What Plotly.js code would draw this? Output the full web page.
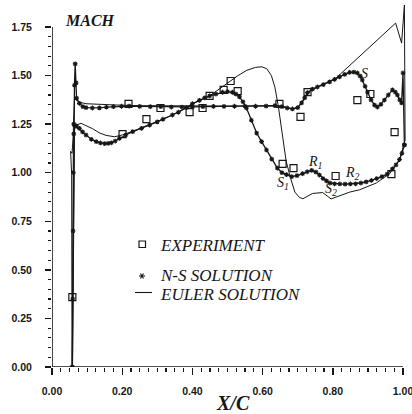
<!DOCTYPE html>
<html>
<head>
<meta charset="utf-8">
<script src="https://cdn.plot.ly/plotly-3.0.1.min.js"></script>
<style>html,body{margin:0;padding:0;background:#fff;}#chart{width:412px;height:414px;}</style>
</head>
<body>
<div id="chart"></div>
<script>
// ---- data ----
const expX = [0.058,0.201,0.218,0.269,0.309,0.392,0.429,0.449,0.489,0.509,0.529,0.648,0.657,0.688,0.708,0.728,0.808,0.870,0.907,0.967,0.976];
const expM = [0.36,1.199,1.354,1.276,1.333,1.312,1.333,1.395,1.426,1.472,1.420,1.354,1.045,1.024,1.287,1.415,0.983,1.374,1.405,0.993,1.209];

const nsUpperX = [0.058,0.059,0.060,0.061,0.062,0.064,0.066,0.069,0.070,0.078,0.088,0.097,0.115,0.135,0.155,0.175,0.198,0.22,0.25,0.28,0.31,0.34,0.37,0.40,0.43,0.46,0.49,0.52,0.55,0.58,0.61,0.635,0.655,0.67,0.685,0.70,0.711,0.72,0.728,0.742,0.756,0.773,0.791,0.805,0.819,0.834,0.848,0.86,0.87,0.878,0.884,0.892,0.899,0.909,0.919,0.927,0.937,0.947,0.958,0.97,0.978,0.984,0.991,0.996,1.0,1.004];
const nsUpperM = [0,0.35,0.70,1.00,1.25,1.45,1.56,1.462,1.384,1.357,1.34,1.335,1.333,1.334,1.337,1.34,1.342,1.343,1.341,1.340,1.340,1.338,1.338,1.339,1.340,1.341,1.341,1.342,1.342,1.342,1.343,1.345,1.34,1.333,1.328,1.335,1.359,1.385,1.412,1.43,1.441,1.453,1.467,1.48,1.493,1.506,1.516,1.518,1.513,1.497,1.477,1.445,1.415,1.375,1.348,1.338,1.352,1.374,1.40,1.426,1.415,1.40,1.375,1.359,1.513,1.143];

const nsLowerX = [0.058,0.062,0.064,0.07,0.078,0.087,0.097,0.112,0.126,0.138,0.15,0.16,0.169,0.18,0.192,0.21,0.23,0.255,0.278,0.30,0.316,0.343,0.36,0.383,0.40,0.42,0.435,0.449,0.467,0.486,0.50,0.514,0.524,0.534,0.544,0.554,0.568,0.583,0.597,0.611,0.626,0.642,0.655,0.668,0.683,0.698,0.714,0.727,0.74,0.752,0.762,0.772,0.782,0.792,0.805,0.82,0.835,0.85,0.865,0.88,0.895,0.91,0.925,0.94,0.955,0.97,0.98,0.99,0.997,1.004];
const nsLowerM = [0,1.20,1.245,1.24,1.228,1.21,1.194,1.172,1.16,1.153,1.15,1.151,1.154,1.163,1.177,1.194,1.211,1.228,1.245,1.262,1.275,1.297,1.311,1.335,1.355,1.372,1.385,1.395,1.405,1.414,1.417,1.414,1.405,1.39,1.365,1.333,1.27,1.204,1.16,1.117,1.07,1.024,1.0,0.99,0.98,0.985,0.995,1.005,1.012,1.003,0.988,0.97,0.958,0.947,0.943,0.942,0.941,0.942,0.943,0.947,0.953,0.96,0.97,0.98,0.993,1.02,1.04,1.068,1.10,1.143];

const eulerUpperX = [0.058,0.061,0.064,0.07,0.08,0.097,0.116,0.15,0.20,0.25,0.30,0.40,0.50,0.60,0.648,0.668,0.685,0.70,0.711,0.728,0.756,0.791,0.811,0.979,0.996,1.004,1.006];
const eulerUpperM = [0,1.25,1.38,1.372,1.362,1.355,1.353,1.35,1.347,1.345,1.344,1.343,1.343,1.343,1.345,1.335,1.328,1.336,1.359,1.412,1.44,1.467,1.49,1.77,1.667,1.863,1.168];

const eulerLowerX = [0.057,0.056,0.053,0.057,0.061,0.068,0.083,0.097,0.116,0.135,0.154,0.178,0.20,0.23,0.278,0.316,0.343,0.383,0.42,0.449,0.48,0.506,0.53,0.555,0.58,0.598,0.612,0.625,0.635,0.645,0.655,0.667,0.68,0.692,0.705,0.715,0.742,0.771,0.795,0.819,0.848,0.876,0.924,0.962,0.99,1.006];
const eulerLowerM = [0,0.99,1.11,1.10,1.20,1.245,1.254,1.242,1.226,1.205,1.192,1.185,1.194,1.213,1.246,1.276,1.297,1.338,1.372,1.395,1.435,1.47,1.50,1.527,1.542,1.545,1.535,1.50,1.44,1.34,1.20,1.06,0.97,0.90,0.873,0.866,0.893,0.898,0.865,0.882,0.90,0.912,0.947,0.995,1.065,1.168];

const pointLabels = ['S','R<sub>1</sub>','R<sub>2</sub>','S<sub>1</sub>','S<sub>2</sub>'];
const pointLabelX = [0.89,0.748,0.856,0.657,0.796];
const pointLabelM = [1.513,1.05,0.998,0.947,0.911];

const xTickVals = [0,0.2,0.4,0.6,0.8,1.0];
const xTickText = ['0.00','0.20','0.40','0.60','0.80','1.00'];
const yTickVals = [0,0.25,0.5,0.75,1.0,1.25,1.5,1.75];
const yTickText = ['0.00','0.25','0.50','0.75','1.00','1.25','1.50','1.75'];

const legendNames = ['EXPERIMENT','N-S SOLUTION','EULER SOLUTION'];

// ---- styling ----
const ink = '#161616';
const serif = '"Liberation Serif","DejaVu Serif",serif';
const sans = '"Liberation Sans",Arial,sans-serif';

const nsStyle = {mode:'lines+markers', line:{color:ink,width:1.3}, marker:{symbol:'asterisk-open',size:4,color:ink,line:{color:ink,width:1.1}}, showlegend:false, hoverinfo:'skip'};
const euStyle = {mode:'lines', line:{color:ink,width:1}, showlegend:false, hoverinfo:'skip'};

const traces = [
  Object.assign({x:eulerUpperX, y:eulerUpperM, name:legendNames[2]}, euStyle),
  Object.assign({x:eulerLowerX, y:eulerLowerM, name:legendNames[2]}, euStyle),
  Object.assign({x:nsUpperX, y:nsUpperM, name:legendNames[1]}, nsStyle),
  Object.assign({x:nsLowerX, y:nsLowerM, name:legendNames[1]}, nsStyle),
  {x:expX, y:expM, name:legendNames[0], mode:'markers', marker:{symbol:'square-open',size:7,color:ink,line:{color:ink,width:1.2}}, showlegend:false, hoverinfo:'skip', cliponaxis:false}
];

// plot-area geometry: left 52px, right 2px, top 2px, bottom 47px
const ml=52, mr=2, mt=2, mb=47, W=412, H=414;
const pw=W-ml-mr, ph=H-mt-mb;
const xPerPx = 1/351, yPerPx = 1/194.3;
const px = x => (x-ml)/pw;            // pixel -> paper x
const py = y => (H-mb-y)/ph;          // pixel -> paper y

const annotations = [];
pointLabels.forEach((t,i)=>annotations.push({x:pointLabelX[i], y:pointLabelM[i], xref:'x', yref:'y', text:t, showarrow:false, font:{family:serif, size:14, color:ink, style:'italic'}, xanchor:'center', yanchor:'middle'}));
annotations.push({x:px(63), y:py(20), xref:'paper', yref:'paper', text:'MACH', showarrow:false, xanchor:'left', yanchor:'middle', font:{family:serif, size:16, color:ink, style:'italic', weight:'bold'}});
annotations.push({x:px(232.5), y:py(403), xref:'paper', yref:'paper', text:'X/C', showarrow:false, xanchor:'center', yanchor:'middle', font:{family:serif, size:20, color:ink, style:'italic', weight:'bold'}});
const legY = [246, 275, 294];
legendNames.forEach((t,i)=>annotations.push({x:px(159), y:py(legY[i]), xref:'paper', yref:'paper', text:t, showarrow:false, xanchor:'left', yanchor:'middle', borderpad:0, font:{family:serif, size:17, color:ink, style:'italic'}}));

const shapes = [
  // axis lines
  {type:'line', xref:'x', yref:'y', x0:0, x1:1.0, y0:0, y1:0, line:{color:ink,width:1.6}},
  {type:'line', xref:'x', yref:'y', x0:0, x1:0, y0:0, y1:1.75, line:{color:ink,width:1.6}},
  // legend symbols
  {type:'rect', xref:'paper', yref:'paper', x0:px(139), x1:px(145.5), y0:py(247.5), y1:py(241), line:{color:ink,width:1.2}},
  {type:'line', xref:'paper', yref:'paper', x0:px(139), x1:px(145), y0:py(276), y1:py(276), line:{color:ink,width:1.1}},
  {type:'line', xref:'paper', yref:'paper', x0:px(140.5), x1:px(143.5), y0:py(273.4), y1:py(278.6), line:{color:ink,width:1.1}},
  {type:'line', xref:'paper', yref:'paper', x0:px(143.5), x1:px(140.5), y0:py(273.4), y1:py(278.6), line:{color:ink,width:1.1}},
  {type:'line', xref:'paper', yref:'paper', x0:px(135), x1:px(152), y0:py(292.5), y1:py(292.5), line:{color:ink,width:1.1}}
];

const layout = {
  width:W, height:H,
  margin:{l:ml, r:mr, t:mt, b:mb, pad:0},
  paper_bgcolor:'#fff', plot_bgcolor:'#fff',
  showlegend:false,
  xaxis:{range:[0, pw*xPerPx], showgrid:false, zeroline:false, showline:false,
    tickmode:'array', tickvals:xTickVals, ticktext:xTickText, ticks:'outside', ticklen:7, tickwidth:1.4, tickcolor:ink,
    ticklabelstandoff:7, ticklabeloverflow:'allow',
    minor:{dtick:0.025, tick0:0, ticks:'outside', ticklen:4, tickwidth:1.2, tickcolor:ink, showgrid:false},
    tickfont:{family:sans, size:10.5, color:ink, weight:'bold'}, fixedrange:true},
  yaxis:{range:[0, ph*yPerPx], showgrid:false, zeroline:false, showline:false,
    tickmode:'array', tickvals:yTickVals, ticktext:yTickText, ticks:'outside', ticklen:6, tickwidth:1.4, tickcolor:ink,
    ticklabelstandoff:11,
    minor:{tickmode:'array', tickvals:[0.05,0.1,0.15,0.2,0.3,0.35,0.4,0.45,0.55,0.6,0.65,0.7,0.8,0.85,0.9,0.95,1.05,1.1,1.15,1.2,1.3,1.35,1.4,1.45,1.55,1.6,1.65,1.7], ticks:'outside', ticklen:3, tickwidth:1.2, tickcolor:ink, showgrid:false},
    tickfont:{family:sans, size:10.5, color:ink, weight:'bold'}, fixedrange:true},
  annotations:annotations,
  shapes:shapes
};

Plotly.newPlot('chart', traces, layout, {staticPlot:true, displayModeBar:false});
</script>
</body>
</html>
